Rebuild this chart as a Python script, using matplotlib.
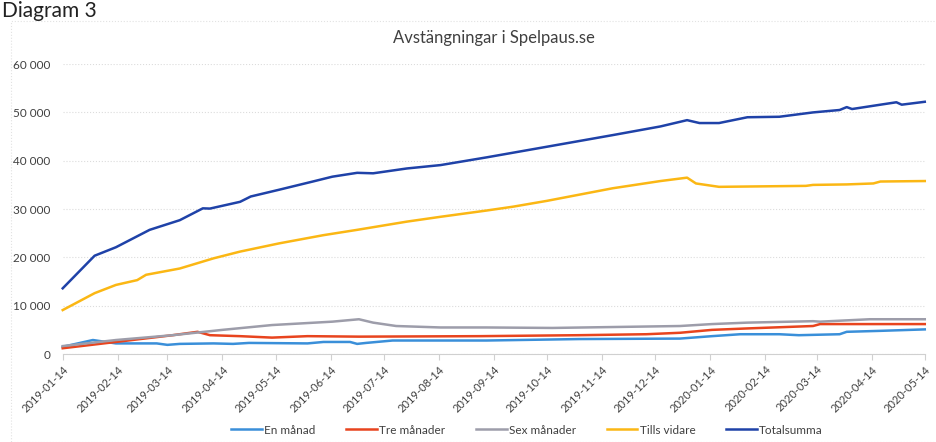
import matplotlib
matplotlib.use('Agg')
import matplotlib.pyplot as plt
import matplotlib.dates as mdates
import matplotlib.patches as mpatches
import pandas as pd

# values (approximate)
total_dates = ['2019-01-14', '2019-02-01', '2019-02-13', '2019-03-04', '2019-03-21', '2019-04-03',
               '2019-04-07', '2019-04-24', '2019-04-30', '2019-05-16', '2019-06-04', '2019-06-15',
               '2019-06-29', '2019-07-08', '2019-07-27', '2019-08-15', '2019-09-10', '2019-10-14',
               '2019-11-20', '2019-12-17', '2020-01-01', '2020-01-08', '2020-01-19', '2020-02-04',
               '2020-02-22', '2020-03-12', '2020-03-27', '2020-03-31', '2020-04-03', '2020-04-19',
               '2020-04-28', '2020-05-01', '2020-05-14']
total_vals = [13600, 20350, 22100, 25700, 27700, 30150,
              30100, 31500, 32600, 34000, 35700, 36700,
              37500, 37400, 38400, 39100, 40700, 42900,
              45300, 47100, 48400, 47800, 47800, 49000,
              49100, 50000, 50500, 51100, 50700, 51600,
              52100, 51600, 52200]

tills_dates = ['2019-01-14', '2019-02-01', '2019-02-13', '2019-02-25', '2019-03-02', '2019-03-21',
               '2019-04-09', '2019-04-24', '2019-05-16', '2019-06-10', '2019-06-29', '2019-07-27',
               '2019-08-15', '2019-09-10', '2019-09-25', '2019-10-14', '2019-11-20', '2019-12-17',
               '2020-01-01', '2020-01-06', '2020-01-19', '2020-03-08', '2020-03-12', '2020-03-31',
               '2020-04-15', '2020-04-19', '2020-05-14']
tills_vals = [9100, 12600, 14300, 15300, 16400, 17700,
              19800, 21200, 22900, 24600, 25700, 27400,
              28400, 29700, 30500, 31700, 34300, 35800,
              36500, 35300, 34600, 34800, 35000, 35100,
              35300, 35700, 35800]

sex_dates = ['2019-01-14', '2019-02-13', '2019-03-17', '2019-04-14', '2019-05-12', '2019-06-15',
             '2019-06-30', '2019-07-08', '2019-07-21', '2019-08-15', '2019-09-10', '2019-10-17',
             '2019-12-28', '2020-01-15', '2020-02-04', '2020-03-12', '2020-03-16', '2020-04-13',
             '2020-05-14']
sex_vals = [1650, 2900, 3900, 5000, 6000, 6700,
            7200, 6500, 5800, 5500, 5500, 5400,
            5800, 6200, 6500, 6800, 6700, 7200,
            7200]

tre_dates = ['2019-01-14', '2019-02-13', '2019-03-17', '2019-03-31', '2019-04-07', '2019-04-24',
             '2019-05-12', '2019-06-01', '2019-06-30', '2019-09-06', '2019-11-01', '2019-12-09',
             '2019-12-28', '2020-01-15', '2020-02-04', '2020-03-12', '2020-03-16', '2020-05-14']
tre_vals = [1200, 2500, 3900, 4600, 3900, 3700,
            3400, 3700, 3600, 3700, 3900, 4100,
            4400, 5000, 5300, 5800, 6200, 6200]

en_dates = ['2019-01-14', '2019-01-31', '2019-02-13', '2019-03-08', '2019-03-14', '2019-03-21',
            '2019-04-09', '2019-04-20', '2019-04-29', '2019-06-01', '2019-06-10', '2019-06-25',
            '2019-06-29', '2019-07-04', '2019-07-19', '2019-09-10', '2019-11-01', '2019-12-28',
            '2020-01-15', '2020-01-31', '2020-02-22', '2020-03-04', '2020-03-27', '2020-03-31',
            '2020-04-19', '2020-05-14']
en_vals = [1500, 2900, 2200, 2200, 1900, 2100,
           2200, 2100, 2300, 2200, 2500, 2500,
           2100, 2300, 2800, 2800, 3100, 3200,
           3700, 4100, 4100, 3900, 4100, 4600,
           4800, 5100]

tick_dates = pd.date_range('2019-01-01', '2020-05-01', freq='MS') + pd.Timedelta(days=13)

plt.rcParams['font.family'] = ['Lato', 'DejaVu Sans']

fig = plt.figure(figsize=(9.36, 4.42), dpi=100)
ax = fig.add_axes([0.067, 0.199, 0.921, 0.656])

series = [
    ('En månad', en_dates, en_vals, '#3a8fd9'),
    ('Tre månader', tre_dates, tre_vals, '#e8441e'),
    ('Sex månader', sex_dates, sex_vals, '#9d9daa'),
    ('Tills vidare', tills_dates, tills_vals, '#fbb714'),
    ('Totalsumma', total_dates, total_vals, '#1f42a8'),
]
for name, d, v, c in series:
    ax.plot(pd.to_datetime(d), v, color=c, lw=1.8, label=name, clip_on=False, zorder=3)

ax.set_ylim(0, 60000)
ax.set_xlim(pd.Timestamp('2019-01-14'), pd.Timestamp('2020-05-14'))
ax.set_yticks(range(0, 60001, 10000))
ax.yaxis.set_major_formatter(plt.FuncFormatter(lambda v, p: f"{int(v):,}".replace(',', ' ')))
ax.set_xticks(tick_dates)
ax.xaxis.set_major_formatter(mdates.DateFormatter('%Y-%m-%d'))
for lbl in ax.get_xticklabels():
    lbl.set_rotation(45)
    lbl.set_ha('right')
    lbl.set_rotation_mode('anchor')

ax.tick_params(axis='y', length=0, labelsize=8.5, colors='#404040', pad=9)
ax.tick_params(axis='x', length=4, color='#d0d0d0', labelsize=8, colors='#404040', pad=3)
ax.grid(axis='y', color='#dcdcdc', ls=':', lw=0.8)
for s in ['top', 'right', 'left']:
    ax.spines[s].set_visible(False)
ax.spines['bottom'].set_color('#d0d0d0')

ax.set_title('Avstängningar i Spelpaus.se', fontsize=12, color='#404040', pad=15)

fig.text(0.002, 1 - 17 / 442, 'Diagram 3', fontsize=15, color='#222222', va='baseline', ha='left')
fig.patches.append(mpatches.Rectangle((11 / 936, 0), 1, 1 - 21 / 442, transform=fig.transFigure,
                                      fill=False, ec='#e2e2e2', lw=0.8, ls=':'))

fig.legend(loc='center', bbox_to_anchor=(527 / 936, 1 - 430 / 442), ncol=5, frameon=False,
           fontsize=8.5, handlelength=2.6, handletextpad=0.2, columnspacing=2.6, labelcolor='#404040')

fig.savefig('out.png', dpi=100)
